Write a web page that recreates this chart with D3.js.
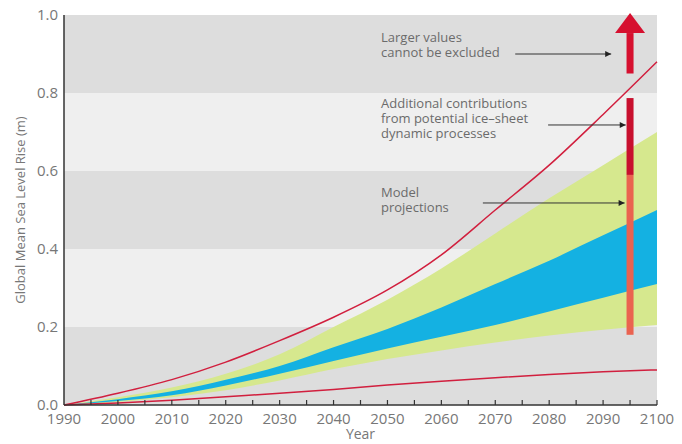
<!DOCTYPE html>
<html>
<head>
<meta charset="utf-8">
<script src="https://cdn.jsdelivr.net/npm/d3@7"></script>
<style>
  body { margin: 0; background: #fff; }
  svg { display: block; font-family: "Open Sans", sans-serif; }
</style>
</head>
<body>
<svg id="chart" width="682" height="444"></svg>
<script>
// values (metres of rise)
var years      = [1990, 2000, 2010, 2020, 2030, 2040, 2050, 2060, 2070, 2080, 2090, 2100];
var redUpper   = [0, 0.03, 0.065, 0.11, 0.165, 0.225, 0.295, 0.385, 0.50, 0.615, 0.745, 0.88];
var redLower   = [0, 0.005, 0.012, 0.021, 0.030, 0.040, 0.051, 0.061, 0.070, 0.078, 0.085, 0.09];
var greenUpper = [0, 0.02, 0.045, 0.08, 0.13, 0.20, 0.27, 0.35, 0.44, 0.53, 0.615, 0.70];
var greenLower = [0, 0.008, 0.02, 0.038, 0.063, 0.092, 0.118, 0.14, 0.16, 0.178, 0.193, 0.205];
var blueUpper  = [0, 0.015, 0.035, 0.065, 0.10, 0.148, 0.195, 0.25, 0.31, 0.37, 0.435, 0.50];
var blueLower  = [0, 0.01, 0.025, 0.05, 0.08, 0.113, 0.145, 0.175, 0.205, 0.24, 0.275, 0.31];
var bandEdges  = [0, 0.2, 0.4, 0.6, 0.8, 1.0];
var yTicks     = [0, 0.2, 0.4, 0.6, 0.8, 1.0];
var xTicks     = d3.range(1990, 2101, 10);
var minorTicks = d3.range(1995, 2101, 5);
// bar at 2095: model range, ice-sheet addition, open-ended arrow
var barYear = 2095;
var barModel = [0.18, 0.59];
var barIce = [0.59, 0.787];
var barArrow = [0.85, 1.005];
var notes = [
    {lines: ["Larger values", "cannot be excluded"], at: 0.93, arrow: [2073.7, 2091.5], ay: 0.90},
    {lines: ["Additional contributions", "from potential ice\u2013sheet", "dynamic processes"], at: 0.762, arrow: [2079.8, 2094.2], ay: 0.718},
    {lines: ["Model", "projections"], at: 0.533, arrow: [2067.7, 2094.0], ay: 0.518}
];

var svg = d3.select("#chart"),
    margin = {top: 15, right: 25, bottom: 39, left: 64},
    width = 682 - margin.left - margin.right,
    height = 444 - margin.top - margin.bottom;

var x = d3.scaleLinear().domain([1990, 2100]).range([margin.left, margin.left + width]);
var y = d3.scaleLinear().domain([0, 1]).range([margin.top + height, margin.top]);

var defs = svg.append("defs");
defs.append("marker")
    .attr("id", "head")
    .attr("viewBox", "0 0 10 10")
    .attr("refX", 10).attr("refY", 5)
    .attr("markerWidth", 9).attr("markerHeight", 6)
    .attr("markerUnits", "userSpaceOnUse")
    .attr("orient", "auto")
    .append("path").attr("d", "M0,0L10,5L0,10z").attr("fill", "#222");

// grey background bands
svg.append("g").selectAll("rect")
    .data(d3.pairs(bandEdges))
    .join("rect")
    .attr("x", x(1990))
    .attr("width", x(2100) - x(1990))
    .attr("y", d => y(d[1]))
    .attr("height", d => y(d[0]) - y(d[1]))
    .attr("fill", (d, i) => i % 2 ? "#efefef" : "#dddddd");

var rows = years.map((yr, i) => ({yr: yr, gu: greenUpper[i], gl: greenLower[i], bu: blueUpper[i], bl: blueLower[i], ru: redUpper[i], rl: redLower[i]}));

var area = (lo, hi) => d3.area()
    .curve(d3.curveMonotoneX)
    .x(d => x(d.yr)).y0(d => y(d[lo])).y1(d => y(d[hi]));

svg.append("path").datum(rows).attr("d", area("gl", "gu")).attr("fill", "#d6e88e");
svg.append("path").datum(rows).attr("d", area("bl", "bu")).attr("fill", "#14b1e2");

var line = key => d3.line().curve(d3.curveMonotoneX).x(d => x(d.yr)).y(d => y(d[key]));
["ru", "rl"].forEach(k => {
    svg.append("path").datum(rows)
        .attr("d", line(k))
        .attr("fill", "none")
        .attr("stroke", "#d11f3e")
        .attr("stroke-width", 1.5);
});

// vertical bar
var bx = x(barYear), bw = 7;
svg.append("rect").attr("x", bx - bw / 2).attr("width", bw)
    .attr("y", y(barModel[1])).attr("height", y(barModel[0]) - y(barModel[1]))
    .attr("fill", "#ea6350");
svg.append("rect").attr("x", bx - bw / 2).attr("width", bw)
    .attr("y", y(barIce[1])).attr("height", y(barIce[0]) - y(barIce[1]))
    .attr("fill", "#c8102e");
var shaftTop = y(barArrow[1]) + 20;
svg.append("rect").attr("x", bx - bw / 2).attr("width", bw)
    .attr("y", shaftTop).attr("height", y(barArrow[0]) - shaftTop)
    .attr("fill", "#d6102f");
svg.append("path")
    .attr("d", `M${bx - 15},${shaftTop}L${bx},${y(barArrow[1])}L${bx + 15},${shaftTop}Z`)
    .attr("fill", "#d6102f");

// annotations, one text per line
notes.forEach(n => {
    n.lines.forEach((s, i) => {
        svg.append("text")
            .attr("x", 381).attr("y", y(n.at) + i * 15)
            .attr("fill", "#6b6b6b").attr("font-size", 13)
            .text(s);
    });
    svg.append("line")
        .attr("x1", x(n.arrow[0])).attr("x2", x(n.arrow[1]))
        .attr("y1", y(n.ay)).attr("y2", y(n.ay))
        .attr("stroke", "#333").attr("stroke-width", 1)
        .attr("marker-end", "url(#head)");
});

// axes
var ax = svg.append("g").attr("stroke", "#333");
ax.append("line").attr("x1", x(1990)).attr("x2", x(2100)).attr("y1", y(0)).attr("y2", y(0)).attr("stroke-width", 1.5);
ax.append("line").attr("x1", x(1990)).attr("x2", x(1990)).attr("y1", y(0)).attr("y2", y(1)).attr("stroke-width", 1.5);
ax.selectAll(".tick").data(minorTicks).join("line")
    .attr("x1", d => x(d)).attr("x2", d => x(d))
    .attr("y1", y(0)).attr("y2", y(0) - 5)
    .attr("stroke-width", 1.2);

svg.append("g").selectAll("text").data(xTicks).join("text")
    .attr("x", d => x(d)).attr("y", y(0) + 19)
    .attr("text-anchor", "middle").attr("font-size", 15).attr("fill", "#777")
    .text(d => d);

svg.append("g").selectAll("text").data(yTicks).join("text")
    .attr("x", x(1990) - 6).attr("y", d => y(d) + 5)
    .attr("text-anchor", "end").attr("font-size", 15).attr("fill", "#777")
    .text(d => d3.format(".1f")(d));

svg.append("text")
    .attr("x", x(2045)).attr("y", 439)
    .attr("text-anchor", "middle").attr("font-size", 14).attr("fill", "#777")
    .text("Year");

svg.append("text")
    .attr("transform", `translate(25,${y(0.5)}) rotate(-90)`)
    .attr("text-anchor", "middle").attr("font-size", 13).attr("fill", "#777")
    .text("Global Mean Sea Level Rise (m)");
</script>
</body>
</html>
